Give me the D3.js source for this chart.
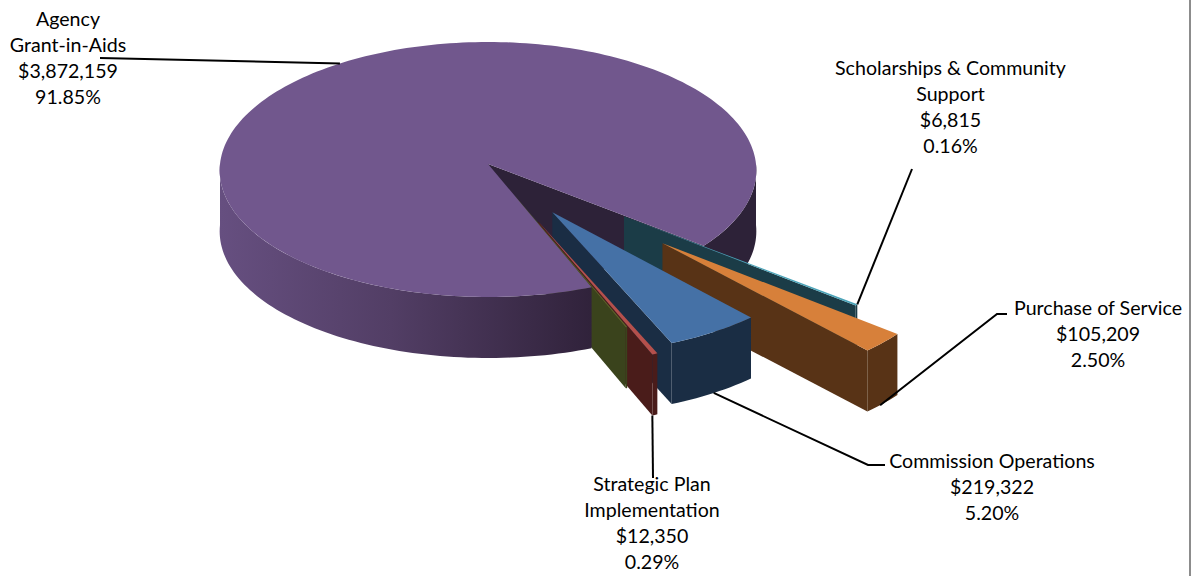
<!DOCTYPE html>
<html>
<head>
<meta charset="utf-8">
<script src="https://cdnjs.cloudflare.com/ajax/libs/d3/7.8.5/d3.min.js"></script>
<style>
html, body { margin: 0; padding: 0; background: #fff; }
svg { display: block; }
text { font-family: Lato, "Open Sans", sans-serif; font-size: 19.6px; fill: #000; text-anchor: middle; }
</style>
</head>
<body>
<svg width="1199" height="576"></svg>
<script>
// clockwise from the cut in the big slice
const categories = ["Scholarships & Community Support", "Purchase of Service", "Commission Operations", "Strategic Plan Implementation", "Other", "Agency Grant-in-Aids"];
const values = [6815, 105209, 219322, 12350, 3500, 3872159];
const explode = [0.64, 0.875, 0.44, 0.48, 0.27, 0];
const top_colors = ["#4aa3b8", "#d7803a", "#4571a6", "#b5504c", "#56692a", "#71578d"];
const wall_colors = ["#1b3c47", "#583316", "#1a2d44", "#4a1c1a", "#3a431c", "#2d2238"];
const label_lines = [
    ["Scholarships & Community", "Support", "$6,815", "0.16%"],
    ["Purchase of Service", "$105,209", "2.50%"],
    ["Commission Operations", "$219,322", "5.20%"],
    ["Strategic Plan", "Implementation", "$12,350", "0.29%"],
    [],
    ["Agency", "Grant-in-Aids", "$3,872,159", "91.85%"]
];

const svg = d3.select("svg");

const cx = 488, cy = 164, rx = 268, ry = 127.5, bulge = 5.5, persp = 0.05, depth = 61;
const slice_r = 1.04;
const start_deg = 128.7;

function project(X, Y, z) {
    return [cx + rx * X * (1 + persp * Y), cy + ry * Y + bulge * Y * Y + z * depth];
}

const pie = d3.pie().sort(null).value(d => d)
    .startAngle(start_deg * Math.PI / 180)
    .endAngle((start_deg + 360) * Math.PI / 180);
const arcs = pie(values);

// ground coordinates of a point in slice i
function ground(i, a, r) {
    const d = arcs[i];
    const mid = (d.startAngle + d.endAngle) / 2;
    const ex = explode[i];
    return [ex * Math.sin(mid) + r * Math.sin(a), -ex * Math.cos(mid) - r * Math.cos(a)];
}
function pt(i, a, r, z) {
    const g = ground(i, a, r);
    return project(g[0], g[1], z);
}
function arc_pts(i, a0, a1, r, z) {
    const n = Math.max(2, Math.ceil(Math.abs(a1 - a0) * 40));
    return d3.range(n + 1).map(k => pt(i, a0 + (a1 - a0) * k / n, r, z));
}
const line = d3.line().curve(d3.curveLinear);
const poly = p => line(p) + "Z";

const defs = svg.append("defs");
const grad = defs.append("linearGradient").attr("id", "wall_grad")
    .attr("gradientUnits", "userSpaceOnUse")
    .attr("x1", 220).attr("x2", 600).attr("y1", 0).attr("y2", 0);
grad.append("stop").attr("offset", 0).attr("stop-color", "#664f80");
grad.append("stop").attr("offset", 0.45).attr("stop-color", "#523e65");
grad.append("stop").attr("offset", 1).attr("stop-color", "#2f2139");

function draw_back_walls(i) {
    const d = arcs[i];
    const g = svg.append("g").attr("class", "slice");
    // cut wall seen through the gap
    g.append("path")
        .attr("d", poly([pt(i, d.endAngle, 0, 0), pt(i, d.endAngle, 0, 1), pt(i, d.endAngle, 1, 1), pt(i, d.endAngle, 1, 0)]))
        .attr("fill", wall_colors[i]);
    // right part of the rim, in shade
    const right = Math.PI * 2.5;
    g.append("path")
        .attr("d", poly(arc_pts(i, right, d.endAngle, 1, 0).concat(arc_pts(i, d.endAngle, right, 1, 1))))
        .attr("fill", wall_colors[i]);
}

function draw_front_rim(i) {
    const d = arcs[i];
    const left = Math.PI * 1.5;
    svg.append("path")
        .attr("d", poly(arc_pts(i, d.startAngle, left, 1, 0).concat(arc_pts(i, left, d.startAngle, 1, 1))))
        .attr("fill", "url(#wall_grad)");
}

function draw_walls(i) {
    const d = arcs[i];
    const g = svg.append("g").attr("class", "slice");
    // radial wall on the viewer's side
    g.append("path")
        .attr("d", poly([pt(i, d.endAngle, 0, 0), pt(i, d.endAngle, 0, 1), pt(i, d.endAngle, slice_r, 1), pt(i, d.endAngle, slice_r, 0)]))
        .attr("fill", wall_colors[i]);
    // rim
    g.append("path")
        .attr("d", poly(arc_pts(i, d.startAngle, d.endAngle, slice_r, 0).concat(arc_pts(i, d.endAngle, d.startAngle, slice_r, 1))))
        .attr("fill", wall_colors[i]);
}

function draw_top(i) {
    const d = arcs[i];
    const r = i == 5 ? 1 : slice_r;
    svg.append("path")
        .attr("d", poly([pt(i, d.startAngle, 0, 0)].concat(arc_pts(i, d.startAngle, d.endAngle, r, 0))))
        .attr("fill", top_colors[i]);
}

draw_back_walls(5);
[0, 1, 2].forEach(i => { draw_walls(i); draw_top(i); });
// the two thin slices sit partly under the big one, only their strips show on it
draw_walls(3);
draw_walls(4);
draw_front_rim(5);
draw_top(5);
draw_top(3);
draw_top(4);

// labels: where the block sits, the elbow, and where the leader meets the slice
const label_pos = [[950.5, 75], [1098, 315], [992, 468], [652, 491], null, [68, 26]];
const elbows = [[[912, 169]], [[1007, 314], [997, 314]], [[885, 465], [868, 465]], [[653, 478]], null, [[100, 58]]];
const leader_at = [[0, 0], [0.6, 1], [0.5, 1], [1, 1], null, [0.504, 0]];

arcs.forEach((d, i) => {
    if (!label_pos[i]) return;
    const a = d.startAngle + (d.endAngle - d.startAngle) * leader_at[i][0];
    const end = pt(i, a, i == 5 ? 1 : slice_r, leader_at[i][1]);
    svg.append("path")
        .attr("d", line(elbows[i].concat([end])))
        .attr("fill", "none")
        .attr("stroke", "#000")
        .attr("stroke-width", 2);
    svg.append("text")
        .selectAll("tspan")
        .data(label_lines[i])
        .join("tspan")
        .attr("x", label_pos[i][0])
        .attr("y", (t, k) => label_pos[i][1] + k * 26)
        .text(t => t);
});

// page edge line in the source
svg.append("line")
    .attr("x1", 1190).attr("x2", 1190).attr("y1", 0).attr("y2", 576)
    .attr("stroke", "#8c8c8c").attr("stroke-width", 2);
</script>
</body>
</html>
